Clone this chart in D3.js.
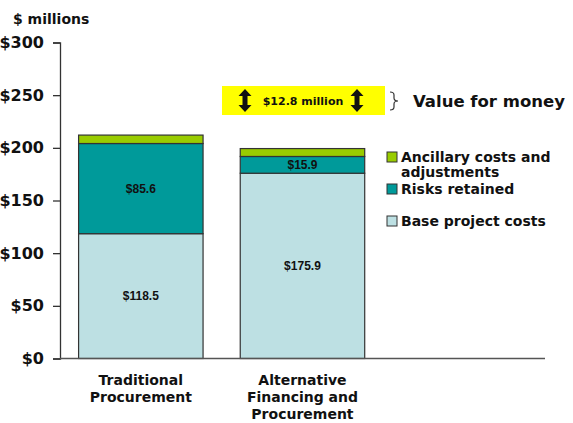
<!DOCTYPE html>
<html>
<head>
<meta charset="utf-8">
<script src="https://cdn.jsdelivr.net/npm/d3@7"></script>
<style>
  body { margin: 0; background: #fff; }
  svg text { font-family: "DejaVu Sans", sans-serif; font-weight: bold; fill: #111; }
  .val { font-family: "Liberation Sans", Arial, sans-serif; font-size: 12px; }
</style>
</head>
<body>
<div id="chart"></div>
<script>
const WIDTH = 573;
const HEIGHT = 423;

// data
const categories = ['Traditional Procurement', 'Alternative Financing and Procurement'];
const categoryLines = [['Traditional', 'Procurement'], ['Alternative', 'Financing and', 'Procurement']];
const seriesNames = ['Base project costs', 'Risks retained', 'Ancillary costs and adjustments'];
const baseCosts = [118.5, 175.9];
const risksRetained = [85.6, 15.9];
const ancillaryCosts = [8.0, 7.5];
const yTicks = [0, 50, 100, 150, 200, 250, 300];
const valueForMoney = 12.8;

const COLORS = ['#bde0e3', '#009a9a', '#99cc00'];

let svg = d3.select('#chart')
    .append('svg')
    .attr('width', WIDTH)
    .attr('height', HEIGHT);

let y = d3.scaleLinear().domain([0, 300]).range([358.5, 42.5]);
let x = d3.scaleBand()
    .domain(categories)
    .range([60, 383.3])
    .paddingInner(0.23)
    .paddingOuter(0.115);

// stacked
let rows = categories.map((c, i) => ({
    cat: c,
    'Base project costs': baseCosts[i],
    'Risks retained': risksRetained[i],
    'Ancillary costs and adjustments': ancillaryCosts[i]
}));
let stacked = d3.stack().keys(seriesNames)(rows);

let layers = svg.selectAll('g.layer')
    .data(stacked)
    .enter()
    .append('g')
    .attr('class', 'layer')
    .attr('fill', (d, i) => COLORS[i]);

layers.selectAll('rect')
    .data(d => d)
    .enter()
    .append('rect')
    .attr('x', d => x(d.data.cat))
    .attr('y', d => y(d[1]))
    .attr('width', x.bandwidth())
    .attr('height', d => y(d[0]) - y(d[1]))
    .attr('stroke', '#333')
    .attr('stroke-width', 1.2);

// value labels for base and risks
stacked.slice(0, 2).forEach(layer => {
    layer.forEach(d => {
        svg.append('text')
            .attr('class', 'val')
            .attr('x', x(d.data.cat) + x.bandwidth() / 2)
            .attr('y', (y(d[0]) + y(d[1])) / 2)
            .attr('dy', '0.35em')
            .attr('text-anchor', 'middle')
            .text('$' + (d[1] - d[0]).toFixed(1));
    });
});

// y axis
let yAxis = d3.axisLeft(y)
    .tickValues(yTicks)
    .tickSize(7)
    .tickPadding(9)
    .tickFormat(d => '$' + d);

let yg = svg.append('g')
    .attr('transform', 'translate(60,0)')
    .call(yAxis);
yg.select('.domain').attr('stroke', '#333').attr('stroke-width', 1.3);
yg.selectAll('.tick line').attr('stroke', '#333').attr('stroke-width', 1.3);
yg.selectAll('.tick text')
    .style('font-size', '16px')
    .style('font-family', '"DejaVu Sans", sans-serif')
    .style('font-weight', 'bold')
    .attr('fill', '#111');

// x baseline
svg.append('line')
    .attr('x1', 60).attr('x2', 545)
    .attr('y1', y(0)).attr('y2', y(0))
    .attr('stroke', '#555')
    .attr('stroke-width', 1.5);

// category labels
categories.forEach((c, i) => {
    let t = svg.append('text')
        .attr('x', x(c) + x.bandwidth() / 2)
        .attr('y', 385)
        .attr('text-anchor', 'middle')
        .style('font-size', '14px');
    categoryLines[i].forEach((line, j) => {
        t.append('tspan')
            .attr('x', x(c) + x.bandwidth() / 2)
            .attr('dy', j === 0 ? 0 : 17)
            .text(line);
    });
});

svg.append('text')
    .attr('x', 13)
    .attr('y', 24)
    .style('font-size', '14px')
    .text('$ millions');

// legend
const legendItems = [
    { i: 2, lines: ['Ancillary costs and', 'adjustments'], y: 157 },
    { i: 1, lines: ['Risks retained'], y: 189 },
    { i: 0, lines: ['Base project costs'], y: 221 }
];
legendItems.forEach(item => {
    svg.append('rect')
        .attr('x', 387).attr('y', item.y - 5)
        .attr('width', 10).attr('height', 10)
        .attr('fill', COLORS[item.i])
        .attr('stroke', '#333');
    let t = svg.append('text')
        .attr('x', 401)
        .attr('y', item.y)
        .style('font-size', '14px');
    item.lines.forEach((line, j) => {
        t.append('tspan')
            .attr('x', 401)
            .attr('dy', j === 0 ? '0.35em' : 15.5)
            .text(line);
    });
});

// value for money callout
svg.append('rect')
    .attr('x', 222).attr('y', 86)
    .attr('width', 163).attr('height', 29)
    .attr('fill', '#ffff00');

svg.append('text')
    .attr('x', 303)
    .attr('y', 101)
    .attr('dy', '0.35em')
    .attr('text-anchor', 'middle')
    .style('font-size', '11px')
    .text('$' + valueForMoney + ' million');

function doubleArrow(cx) {
    let top = 89, bot = 112, hw = 6.5, hh = 7, sw = 2.5;
    svg.append('path')
        .attr('d', `M${cx},${top} L${cx + hw},${top + hh} L${cx + sw},${top + hh} L${cx + sw},${bot - hh} L${cx + hw},${bot - hh} L${cx},${bot} L${cx - hw},${bot - hh} L${cx - sw},${bot - hh} L${cx - sw},${top + hh} L${cx - hw},${top + hh} Z`)
        .attr('fill', '#111');
}
doubleArrow(245);
doubleArrow(357);

// brace
svg.append('path')
    .attr('d', 'M390,92 Q394,92 394,95 L394,98 Q394,101 398,101 Q394,101 394,104 L394,107 Q394,110 390,110')
    .attr('fill', 'none')
    .attr('stroke', '#333')
    .attr('stroke-width', 1.2);

svg.append('text')
    .attr('x', 413)
    .attr('y', 101)
    .attr('dy', '0.35em')
    .style('font-size', '16.5px')
    .text('Value for money');
</script>
</body>
</html>
